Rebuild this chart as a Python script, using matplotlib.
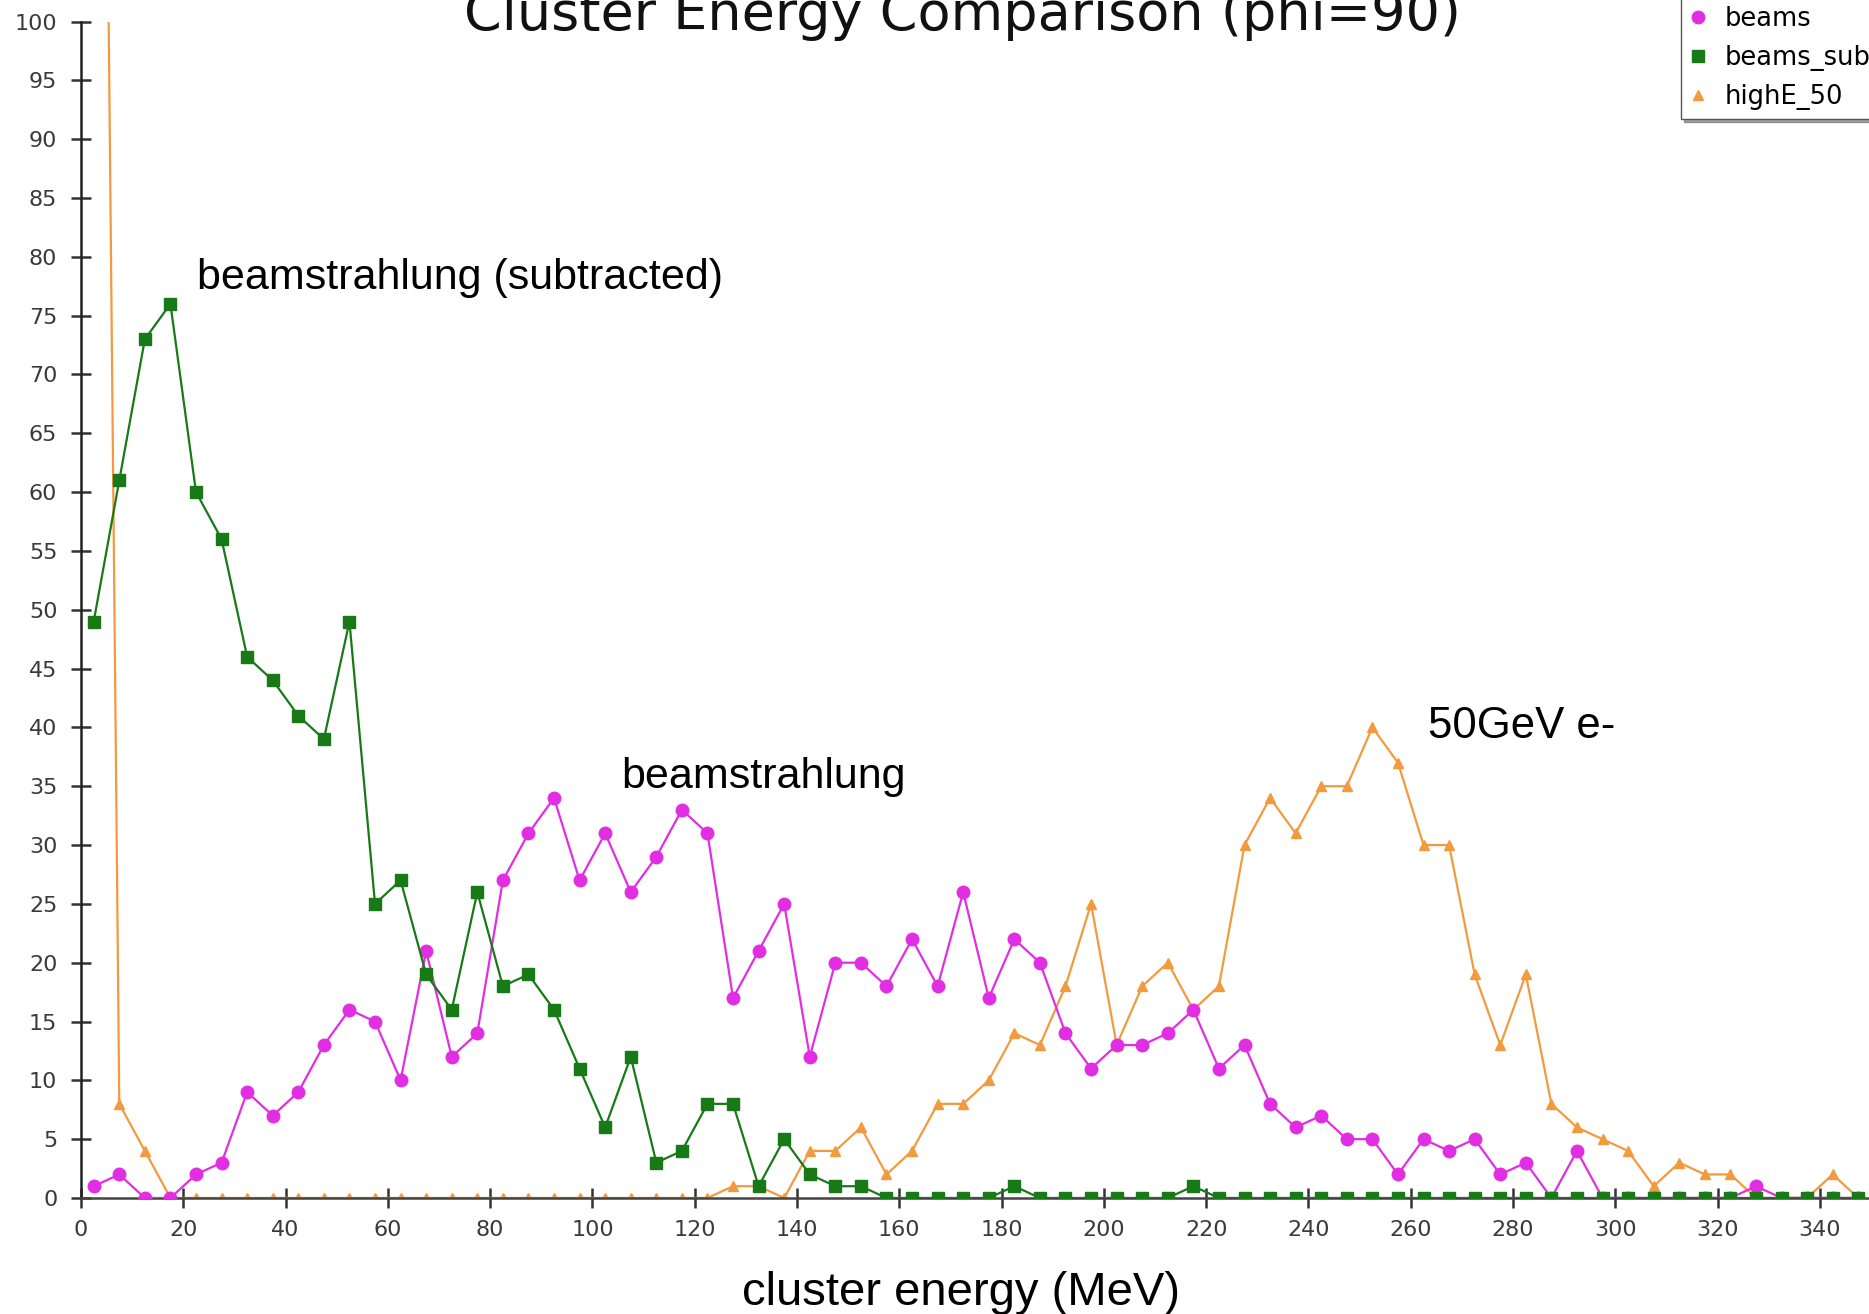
import numpy as np
import matplotlib
matplotlib.use("Agg")
import matplotlib.pyplot as plt

# bin centres of 5 MeV wide energy bins
energy = np.arange(2.5, 350, 5)

beams = [1, 2, 0, 0, 2, 3, 9, 7, 9, 13,
         16, 15, 10, 21, 12, 14, 27, 31, 34, 27,
         31, 26, 29, 33, 31, 17, 21, 25, 12, 20,
         20, 18, 22, 18, 26, 17, 22, 20, 14, 11,
         13, 13, 14, 16, 11, 13, 8, 6, 7, 5,
         5, 2, 5, 4, 5, 2, 3, 0, 4, 0,
         0, 0, 0, 0, 0, 1, 0, 0, 0, 0]

beams_sub = [49, 61, 73, 76, 60, 56, 46, 44, 41, 39,
             49, 25, 27, 19, 16, 26, 18, 19, 16, 11,
             6, 12, 3, 4, 8, 8, 1, 5, 2, 1,
             1, 0, 0, 0, 0, 0, 1, 0, 0, 0,
             0, 0, 0, 1, 0, 0, 0, 0, 0, 0,
             0, 0, 0, 0, 0, 0, 0, 0, 0, 0,
             0, 0, 0, 0, 0, 0, 0, 0, 0, 0]

highE_50 = [230, 8, 4, 0, 0, 0, 0, 0, 0, 0,
            0, 0, 0, 0, 0, 0, 0, 0, 0, 0,
            0, 0, 0, 0, 0, 1, 1, 0, 4, 4,
            6, 2, 4, 8, 8, 10, 14, 13, 18, 25,
            13, 18, 20, 16, 18, 30, 34, 31, 35, 35,
            40, 37, 30, 30, 19, 13, 19, 8, 6, 5,
            4, 1, 3, 2, 2, 0, 0, 0, 2, 0]

x_ticks = np.arange(0, 341, 20)
y_ticks = np.arange(0, 101, 5)

col_beams = "#e22ee2"
col_sub = "#177a17"
col_high = "#f39a3e"

fig = plt.figure(figsize=(18.69, 13.14), dpi=100)
ax = fig.add_axes([0.0433, 0.0883, 1 - 0.0433, 0.8953])

ax.plot(energy, highE_50, color=col_high, lw=1.6, marker="^", ms=7,
        label="highE_50", zorder=2)
ax.plot(energy, beams, color=col_beams, lw=1.6, marker="o", ms=9,
        label="beams", zorder=3)
ax.plot(energy, beams_sub, color=col_sub, lw=1.6, marker="s", ms=8.5,
        label="beams_sub", zorder=4)

ax.set_xlim(0, 349.6)
ax.set_ylim(0, 100)
ax.set_xticks(x_ticks)
ax.set_yticks(y_ticks)

for side in ["top", "right"]:
    ax.spines[side].set_visible(False)
ax.spines["left"].set_color("#222222")
ax.spines["bottom"].set_color("#444444")
ax.spines["left"].set_linewidth(1.8)
ax.spines["bottom"].set_linewidth(1.8)

ax.tick_params(axis="both", direction="inout", length=14, width=1.8,
               color="#333333", labelcolor="#3a3a3a", labelsize=16)
ax.tick_params(axis="y", pad=10)
ax.tick_params(axis="x", pad=8.5)

ax.set_xlabel("cluster energy (MeV)", family="Liberation Sans", fontsize=34)
ax.xaxis.set_label_coords(0.492, -0.062)

# text labels on the curves
ax.text(22.7, 78.2, "beamstrahlung (subtracted)", family="Liberation Sans",
        fontsize=31, va="center", ha="left")
ax.text(105.6, 35.8, "beamstrahlung", family="Liberation Sans",
        fontsize=31, va="center", ha="left")
ax.text(263.3, 40.1, "50GeV e-", family="Liberation Sans",
        fontsize=31.5, va="center", ha="left")

fig.text(0.515, 0.977, "Cluster Energy Comparison (phi=90)", fontsize=39,
         ha="center", va="baseline", color="#111111")

handles, labels = ax.get_legend_handles_labels()
order = [1, 2, 0]
leg = fig.legend([handles[i] for i in order], [labels[i] for i in order],
                 loc="lower left", bbox_to_anchor=(0.8994, 0.9094),
                 borderaxespad=0, fontsize=18.5, handlelength=0.6,
                 handletextpad=0.75, borderpad=0.35, labelspacing=0.5,
                 fancybox=False, shadow=True, framealpha=1,
                 edgecolor="#555555")
for h in leg.legend_handles:
    h.set_linestyle("none")

fig.savefig("out.png", dpi=100)
